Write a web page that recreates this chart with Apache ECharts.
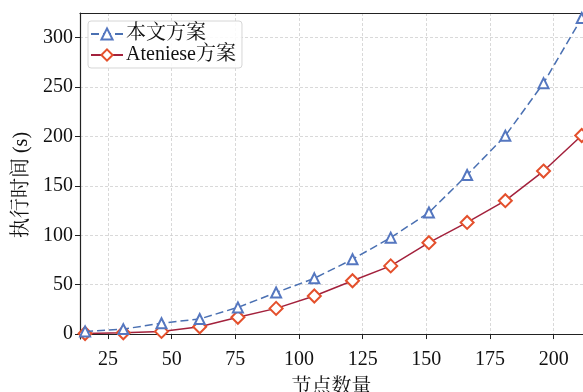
<!DOCTYPE html>
<html>
<head>
<meta charset="utf-8">
<script src="https://cdn.jsdelivr.net/npm/echarts@6/dist/echarts.min.js"></script>
<style>html,body{margin:0;padding:0;background:#fff;}#c{width:583px;height:392px;}</style>
</head>
<body>
<div id="c"></div>
<script>
const nodes = [16, 31, 46, 61, 76, 91, 106, 121, 136, 151, 166, 181, 196, 211];
const oursTime = [2.7, 5, 11, 15.3, 27, 42, 56.4, 75.7, 97.6, 123, 161, 200.7, 254, 320];
const ateneseTime = [0.6, 1.3, 2.7, 7.4, 17, 26, 38.5, 54, 69, 92.5, 113, 135, 165, 201];
const xTicks = [25, 50, 75, 100, 125, 150, 175, 200];
const yTicks = [0, 50, 100, 150, 200, 250, 300];
const seriesNames = ['本文方案', 'Ateniese方案'];

const FONT = "'Liberation Serif', 'Noto Serif CJK SC', 'Noto Sans CJK SC', serif";
const chart = echarts.init(document.getElementById('c'), null, {renderer: 'canvas'});
const pairs = (ys) => nodes.map((x, i) => [x, ys[i]]);
const gridLine = {show: true, lineStyle: {color: '#cfcfcf', width: 0.8, type: [3, 2]}};
const X_MIN = 14, X_MAX = 211.5;

chart.setOption({
  backgroundColor: '#fff',
  animation: false,
  textStyle: {fontFamily: FONT},
  grid: {left: 80, top: 13, right: 0, bottom: 53, show: false, containLabel: false, outerBoundsMode: 'none'},
  legend: {
    left: 88, top: 21, orient: 'vertical',
    itemWidth: 32, itemHeight: 14, itemGap: 1,
    padding: [3, 6, 3, 2],
    borderColor: '#d6d6d6', borderWidth: 1, borderRadius: 3,
    backgroundColor: 'rgba(255,255,255,0.85)',
    textStyle: {fontFamily: FONT, fontSize: 20, color: '#111', padding: [0, 0, 0, -2]},
    data: seriesNames
  },
  xAxis: [{
    type: 'value', min: X_MIN, max: X_MAX,
    name: '节点数量', nameLocation: 'middle', nameGap: 39,
    nameTextStyle: {fontFamily: FONT, fontSize: 20, color: '#111'},
    axisLine: {show: true, lineStyle: {color: '#222', width: 1.2}},
    axisTick: {show: true, length: 5, lineStyle: {color: '#222'}, customValues: xTicks},
    axisLabel: {fontFamily: FONT, fontSize: 20, color: '#111', margin: 11, customValues: xTicks},
    splitLine: gridLine
  }, {
    type: 'value', min: X_MIN, max: X_MAX, position: 'top',
    axisLine: {show: true, onZero: false, lineStyle: {color: '#222', width: 1.2}},
    axisTick: {show: false}, axisLabel: {show: false}, splitLine: {show: false}
  }],
  yAxis: {
    type: 'value', min: -5, max: 325,
    name: '执行时间 (s)', nameLocation: 'middle', nameGap: 48,
    nameTextStyle: {fontFamily: FONT, fontSize: 20, color: '#111', padding: [0, 18, 0, 0]},
    axisLine: {show: true, lineStyle: {color: '#222', width: 1.2}},
    axisTick: {show: true, length: 5, lineStyle: {color: '#222'}, customValues: yTicks},
    axisLabel: {fontFamily: FONT, fontSize: 20, color: '#111', margin: 7, customValues: yTicks},
    splitLine: gridLine
  },
  series: [
    {
      name: seriesNames[0], type: 'line', data: pairs(oursTime),
      symbol: 'emptyTriangle', symbolSize: 10, clip: false,
      itemStyle: {color: '#5577C0', borderWidth: 1.5},
      lineStyle: {color: '#4A70B2', width: 1.5, type: [8, 4]},
      z: 3
    },
    {
      name: seriesNames[1], type: 'line', data: pairs(ateneseTime),
      symbol: 'emptyDiamond', symbolSize: 13, clip: false,
      itemStyle: {color: '#E4502C', borderWidth: 1.5},
      lineStyle: {color: '#A3213C', width: 1.5, type: 'solid'},
      z: 2
    }
  ]
});
</script>
</body>
</html>
